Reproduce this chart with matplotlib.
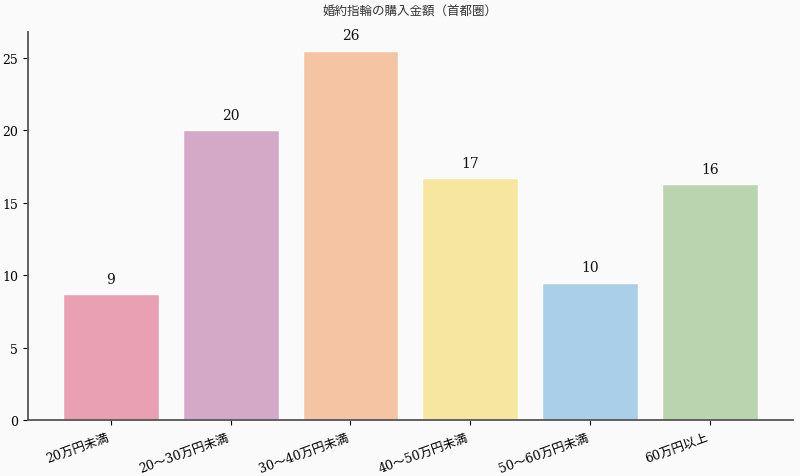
import matplotlib
matplotlib.use("Agg")
import matplotlib.pyplot as plt

plt.rcParams['font.family'] = ['DejaVu Serif', 'Noto Sans CJK JP']

# data
categories = ["20万円未満", "20～30万円未満", "30～40万円未満", "40～50万円未満", "50～60万円未満", "60万円以上"]
values = [8.7, 20.0, 25.5, 16.7, 9.5, 16.3]
colors = ["#e8a0b2", "#d4a9c8", "#f5c4a2", "#f7e6a0", "#a9d0e8", "#bad4b0"]

fig = plt.figure(figsize=(8, 4.77), dpi=100, facecolor="#fafafa")
ax = fig.add_axes([0.035, 0.117, 0.956, 0.814])
ax.set_facecolor("#fafafa")

x = range(len(categories))
bars = ax.bar(x, values, width=0.8, color=colors, edgecolor="white", linewidth=1)

for b, v in zip(bars, values):
    ax.annotate(f"{v:.0f}", (b.get_x() + b.get_width() / 2, b.get_height()),
                xytext=(0, 6), textcoords="offset points",
                ha="center", va="bottom", fontsize=10, color="#111111")

ax.set_xticks(list(x))
ax.set_xticklabels(categories, rotation=20, ha="right", fontsize=9)
ax.tick_params(axis="y", labelsize=9)
ax.set_ylim(0, 26.8)
ax.set_title("婚約指輪の購入金額（首都圏）", fontsize=9, color="#333333", pad=13)

for s in ["top", "right"]:
    ax.spines[s].set_visible(False)
for s in ["left", "bottom"]:
    ax.spines[s].set_color("#555555")
    ax.spines[s].set_linewidth(1.3)

fig.savefig("out.png", dpi=100, facecolor=fig.get_facecolor())
